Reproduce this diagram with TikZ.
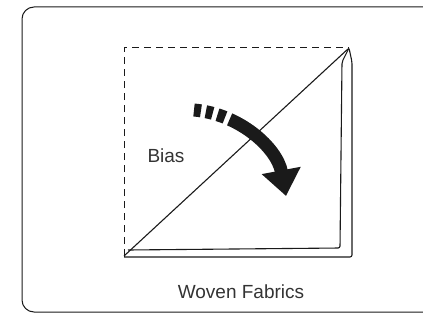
\documentclass[tikz,border=0pt]{standalone}
\usepackage{fontspec}
\setsansfont{Liberation Sans}
\usepackage{tikz}
\usetikzlibrary{arrows.meta,positioning,calc}
\definecolor{fabInk}{HTML}{1A1A1A}
\definecolor{fabText}{HTML}{333333}

\begin{document}
\begin{tikzpicture}[
  x=1pt,y=-1pt,
  frame/.style={draw=fabInk,line width=1pt,rounded corners=12pt},
  edge/.style={draw=fabInk,line width=1.1pt,line join=round},
  fold/.style={edge,rounded corners=2pt},
  guide/.style={draw=fabInk,line width=1pt,dash pattern=on 7pt off 5pt},
  label/.style={font=\sffamily\fontsize{19}{22}\selectfont,text=fabText,inner sep=0pt},
  turn/.style={draw=fabInk,line width=13pt,
    dash pattern=on 7pt off 5pt on 7pt off 5pt on 8pt off 5pt on 300pt,
    -{Triangle[width=38pt,length=26pt]}}
]
  \useasboundingbox (0,0) rectangle (423,321);
  \clip (0,0) rectangle (423,321);
  % outer card
  \path[frame] (22,7) rectangle (450,312);
  % corners of the square
  \coordinate (tl) at (124,48);
  \coordinate (tr) at (349,48);
  \coordinate (bl) at (124,256);
  \coordinate (br) at (352,257);
  % unfolded half, dashed
  \draw[guide] (bl) -- (tl) -- (tr);
  % folded half, two layers
  \draw[fold] (bl) -- (tr) -- (352,62) -- (br) -- (124,257);
  \draw[fold] (tr) -- (342,62) -- (340,248) -- (128,250);
  % bias turn
  \coordinate (turnStart) at (194,110);
  \coordinate (turnEnd) at (286,196);
  \draw[turn] (turnStart) .. controls (240,114) and (277,148) .. (turnEnd);
  \node[label] (bias) at (166,156) {Bias};
  \node[label] (caption) at (241,292) {Woven Fabrics};
\end{tikzpicture}
\end{document}
